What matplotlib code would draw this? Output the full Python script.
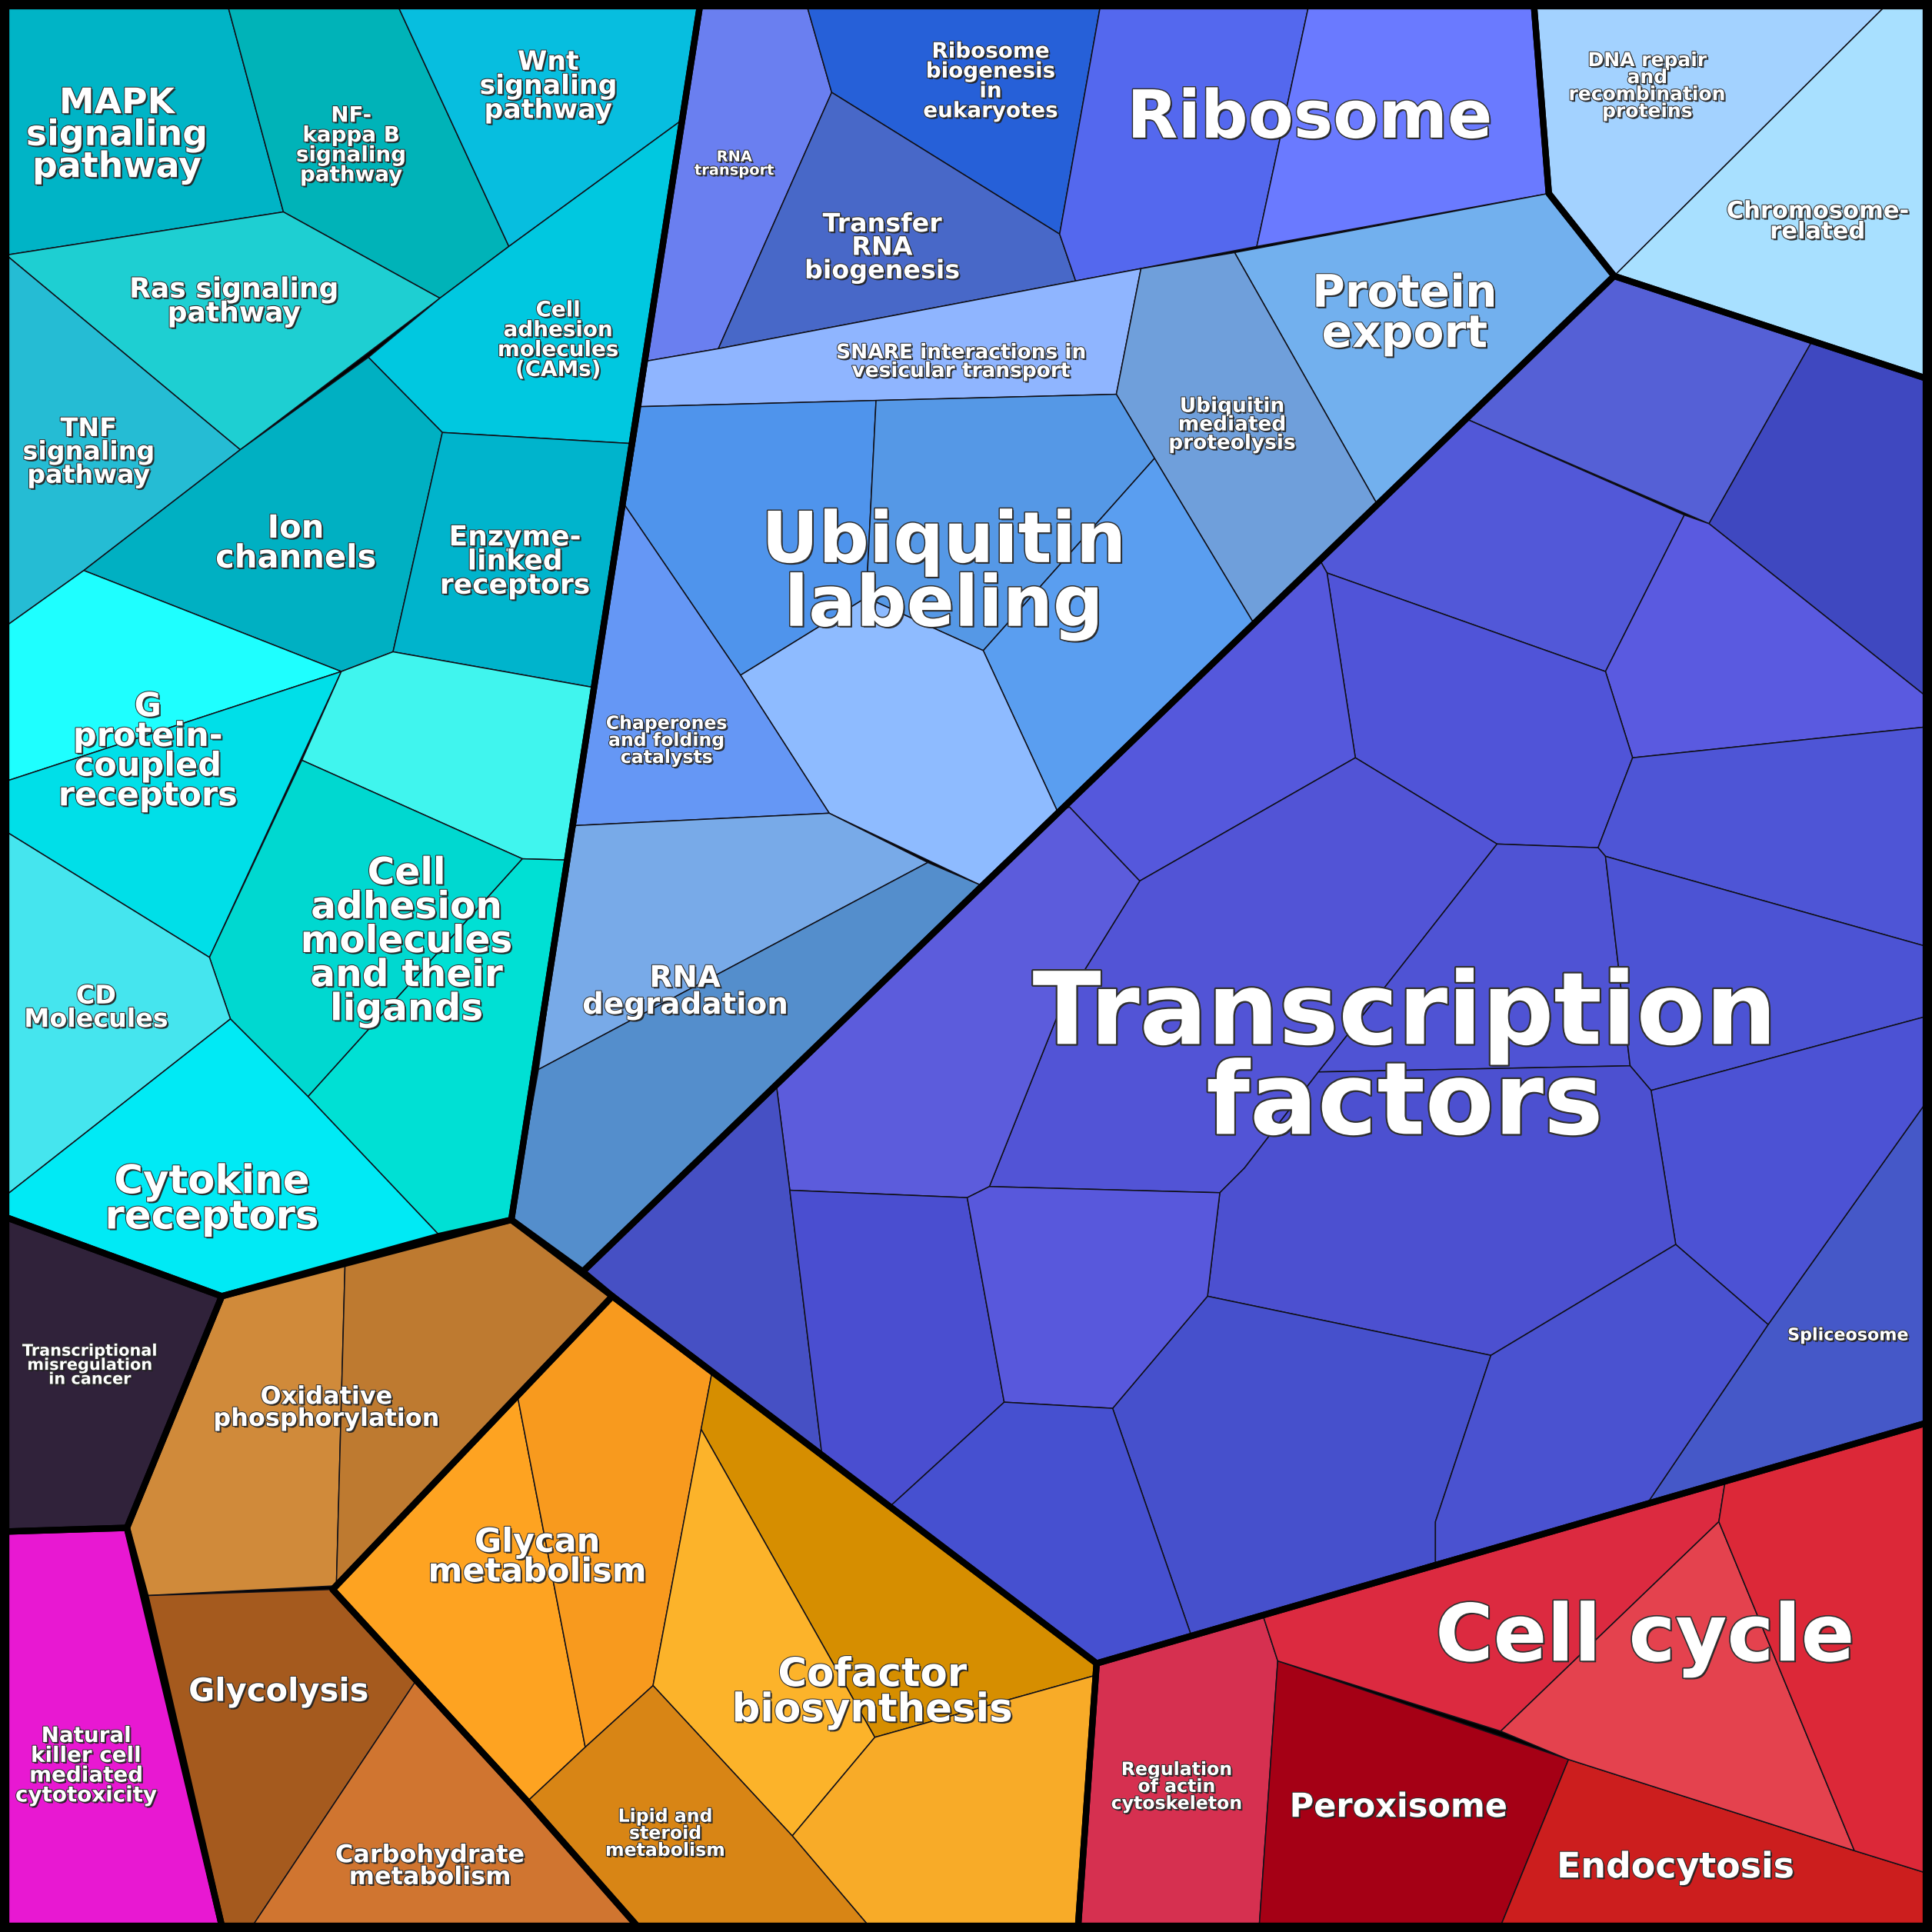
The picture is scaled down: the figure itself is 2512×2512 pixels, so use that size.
import matplotlib
matplotlib.use("Agg")
import matplotlib.pyplot as plt
from matplotlib.patches import Polygon
import matplotlib.patheffects as pe

# ---- cells of the Voronoi treemap (vertices, px of a 1568 frame) ----
cell_colors = [
    "#00b4c6", "#00b3b8", "#07bedf", "#1ecfd2", "#25bcd4", "#00c8e0", "#00b0c2", "#00b4cc",
    "#1effff", "#00dfe8", "#40f5ee", "#00d8d0", "#00e0d4", "#45e5ee", "#00eaf5",
    "#6a7ff0", "#2660d8", "#4868c8", "#5468ee", "#6a7aff", "#8fb5ff", "#72b0ee", "#6f9fdb",
    "#4f94ec", "#5598e6", "#5a9ef0", "#8ebbff", "#6597f5", "#78aae8", "#548ecc",
    "#a3d2ff", "#a8e0ff",
    "#5560d6", "#3f48c0", "#4558c8", "#5258d8", "#5a5ae0", "#5054d8", "#4e55d6", "#5558dc",
    "#5254d6", "#4f53d4", "#4c53d4", "#4c52d4", "#4c50d0", "#4650cc", "#4a52d0", "#5c5cdc",
    "#4650c4", "#4a4ed0", "#5858dc", "#4650d0",
    "#d63050", "#a50015", "#cc1e1e", "#dc2a40", "#e4424e", "#dc2838",
    "#d08a3a", "#be7a30", "#a55a1e", "#d07530",
    "#fea321", "#f89a1e", "#d68e00", "#fcb32a", "#f8ab28", "#d88515",
    "#30223a", "#e818d2",
]
cell_vertices = [
    [(5,5),(185,5),(230,172),(5,207)],
    [(185,5),(323,5),(413,200),(357,242),(230,172)],
    [(323,5),(568,5),(554,97),(413,200)],
    [(5,207),(230,172),(357,242),(195,365)],
    [(5,207),(195,365),(68,463),(5,508)],
    [(554,97),(513,360),(359,351),(299,290),(357,242),(413,200)],
    [(195,365),(299,290),(359,351),(319,529),(277,545),(68,463)],
    [(359,351),(513,360),(482,558),(319,529)],
    [(5,508),(68,463),(277,545),(5,634)],
    [(5,634),(277,545),(170,777),(5,675)],
    [(277,545),(319,529),(482,558),(460,698),(424,697),(245,617)],
    [(245,617),(424,697),(250,890),(187,827),(170,777)],
    [(424,697),(460,698),(415,990),(357,1003),(250,890)],
    [(5,675),(170,777),(187,827),(5,970)],
    [(5,970),(187,827),(250,890),(357,1003),(180,1052),(5,988)],
    [(568,5),(655,5),(675,75),(583,283),(525,293)],
    [(655,5),(893,5),(860,190),(675,75)],
    [(675,75),(860,190),(873,228),(583,283)],
    [(893,5),(1062,5),(1020,200),(873,228),(860,190)],
    [(1062,5),(1245,5),(1257,157),(1020,200)],
    [(525,293),(583,283),(873,228),(926,218),(906,320),(520,330)],
    [(1002,205),(1257,157),(1310,224),(1117,408)],
    [(926,218),(1002,205),(1117,408),(1017,505),(937,372),(906,320)],
    [(520,330),(711,325),(703,485),(601,548),(507,410)],
    [(711,325),(906,320),(937,372),(798,528),(703,485)],
    [(937,372),(1017,505),(858,658),(798,528)],
    [(601,548),(703,485),(798,528),(858,658),(795,718),(673,660)],
    [(507,410),(601,548),(673,660),(467,670),(482,558)],
    [(467,670),(673,660),(753,700),(437,868),(460,698)],
    [(437,868),(753,700),(795,718),(473,1032),(415,990)],
    [(1245,5),(1530,5),(1310,224),(1257,157)],
    [(1530,5),(1563,5),(1563,307),(1310,224)],
    [(1310,224),(1470,278),(1387,425),(1190,340)],
    [(1470,278),(1563,307),(1563,565),(1387,425)],
    [(1563,895),(1563,1155),(1337,1220),(1435,1075)],
    [(1072,456),(1190,340),(1367,418),(1303,545),(1077,465)],
    [(1367,418),(1387,425),(1563,565),(1563,590),(1325,615),(1303,545)],
    [(1077,465),(1303,545),(1325,615),(1297,688),(1215,685),(1100,615)],
    [(1325,615),(1563,590),(1563,768),(1303,695),(1297,688)],
    [(858,658),(1072,456),(1077,465),(1100,615),(925,715),(868,655)],
    [(925,715),(1100,615),(1215,685),(1070,870),(1010,948),(990,968),(803,963),(860,820)],
    [(1215,685),(1297,688),(1303,695),(1323,865),(1070,870)],
    [(1303,695),(1563,768),(1563,825),(1340,885),(1323,865)],
    [(1340,885),(1563,825),(1563,895),(1435,1075),(1360,1010)],
    [(990,968),(1010,948),(1070,870),(1323,865),(1340,885),(1360,1010),(1210,1100),(980,1052)],
    [(903,1143),(980,1052),(1210,1100),(1165,1235),(1165,1268),(967,1328)],
    [(1210,1100),(1360,1010),(1435,1075),(1337,1220),(1165,1268),(1165,1235)],
    [(858,658),(868,655),(925,715),(860,820),(803,963),(785,972),(641,966),(630,880)],
    [(473,1032),(630,880),(641,966),(667,1180),(497,1052)],
    [(641,966),(785,972),(815,1138),(723,1222),(667,1180)],
    [(785,972),(803,963),(990,968),(980,1052),(903,1143),(815,1138)],
    [(723,1222),(815,1138),(903,1143),(967,1328),(890,1350)],
    [(890,1350),(1025,1311),(1037,1348),(1022,1563),(875,1563)],
    [(1037,1348),(1273,1428),(1218,1563),(1022,1563)],
    [(1273,1428),(1505,1502),(1563,1520),(1563,1563),(1218,1563)],
    [(1025,1311),(1400,1203),(1395,1235),(1218,1405),(1037,1348)],
    [(1395,1235),(1505,1502),(1273,1428),(1218,1405)],
    [(1400,1203),(1563,1155),(1563,1520),(1505,1502),(1395,1235)],
    [(180,1052),(280,1027),(273,1287),(118,1295),(103,1240)],
    [(280,1027),(415,990),(497,1052),(270,1290),(273,1287)],
    [(118,1295),(270,1290),(337,1365),(205,1563),(180,1563)],
    [(337,1365),(428,1462),(517,1563),(205,1563)],
    [(270,1290),(420,1133),(475,1418),(428,1462)],
    [(420,1133),(497,1052),(578,1113),(530,1368),(475,1418)],
    [(578,1113),(890,1350),(888,1360),(710,1410),(569,1160)],
    [(569,1160),(710,1410),(643,1490),(530,1368)],
    [(710,1410),(888,1360),(875,1563),(705,1563),(643,1490)],
    [(530,1368),(643,1490),(705,1563),(517,1563),(428,1462),(475,1418)],
    [(5,988),(180,1052),(103,1240),(5,1243)],
    [(5,1243),(103,1240),(180,1563),(5,1563)],
]

group_outlines = [
    [(5,5),(568,5),(415,990),(357,1003),(180,1052),(5,988)],
    [(568,5),(1245,5),(1257,157),(1310,224),(473,1032),(415,990)],
    [(1245,5),(1563,5),(1563,307),(1310,224),(1257,157)],
    [(473,1032),(1310,224),(1563,307),(1563,1155),(890,1350),(497,1052)],
    [(890,1350),(1563,1155),(1563,1563),(875,1563)],
    [(180,1052),(415,990),(497,1052),(270,1290),(428,1462),(517,1563),(180,1563),(118,1295),(103,1240)],
    [(270,1290),(497,1052),(890,1350),(875,1563),(517,1563),(428,1462)],
    [(5,988),(180,1052),(103,1240),(5,1243)],
    [(5,1243),(103,1240),(180,1563),(5,1563)],
]

labels = [
    "MAPK\nsignaling\npathway", "NF-\nkappa B\nsignaling\npathway", "Wnt\nsignaling\npathway",
    "Ras signaling\npathway", "TNF\nsignaling\npathway", "Cell\nadhesion\nmolecules\n(CAMs)",
    "Ion\nchannels", "Enzyme-\nlinked\nreceptors", "G\nprotein-\ncoupled\nreceptors",
    "Cell\nadhesion\nmolecules\nand their\nligands", "CD\nMolecules", "Cytokine\nreceptors",
    "RNA\ntransport", "Ribosome\nbiogenesis\nin\neukaryotes", "Transfer\nRNA\nbiogenesis",
    "Ribosome", "DNA repair\nand\nrecombination\nproteins", "Chromosome-\nrelated",
    "SNARE interactions in\nvesicular transport", "Protein\nexport", "Ubiquitin\nmediated\nproteolysis",
    "Ubiquitin\nlabeling", "Chaperones\nand folding\ncatalysts", "RNA\ndegradation",
    "Transcription\nfactors", "Spliceosome", "Transcriptional\nmisregulation\nin cancer",
    "Natural\nkiller cell\nmediated\ncytotoxicity", "Oxidative\nphosphorylation", "Glycolysis",
    "Carbohydrate\nmetabolism", "Glycan\nmetabolism", "Lipid and\nsteroid\nmetabolism",
    "Cofactor\nbiosynthesis", "Regulation\nof actin\ncytoskeleton", "Peroxisome",
    "Endocytosis", "Cell cycle",
]
label_x = [95, 285, 445, 190, 72, 453, 240, 418, 120, 330, 78, 172, 596, 804, 716, 1063, 1337,
           1475, 780, 1140, 1000, 766, 541, 556, 1140, 1500, 73, 70, 265, 226, 349, 436, 540,
           708, 955, 1135, 1360, 1335]
label_y = [110, 118, 70, 245, 367, 276, 441, 456, 610, 764, 818, 974, 133, 66, 201, 97, 70,
           180, 294, 255, 345, 466, 601, 805, 861, 1084, 1108, 1433, 1143, 1373, 1515, 1264,
           1488, 1374, 1450, 1467, 1516, 1330]
label_size = [33, 20, 25, 26, 24, 20, 30, 26, 31, 35, 24, 37, 14, 20, 24, 62, 18, 22, 19, 42,
              19, 66, 17, 28, 94, 16, 15, 20, 23, 30, 23, 31, 17, 37, 17, 31, 33, 74]

fig = plt.figure(figsize=(25.12, 25.12), dpi=100, facecolor="black")
ax = fig.add_axes([0, 0, 1, 1])
ax.set_xlim(0, 1568)
ax.set_ylim(1568, 0)
ax.axis("off")

for verts, col in zip(cell_vertices, cell_colors):
    ax.add_patch(Polygon(verts, closed=True, facecolor=col, edgecolor="#101018",
                         linewidth=1.1, joinstyle="round"))
for verts in group_outlines:
    ax.add_patch(Polygon(verts, closed=True, fill=False, edgecolor="black",
                         linewidth=6, joinstyle="round"))
ax.add_patch(Polygon([(3, 3), (1565, 3), (1565, 1565), (3, 1565)], closed=True, fill=False,
                     edgecolor="black", linewidth=10))

for t, x, y, s in zip(labels, label_x, label_y, label_size):
    ax.text(x, y, t, ha="center", va="center", fontsize=s, fontweight="bold", color="white",
            family="DejaVu Sans", linespacing=0.9,
            path_effects=[pe.withSimplePatchShadow(offset=(1.5, -1.5), shadow_rgbFace="#202020", alpha=0.9),
                          pe.withStroke(linewidth=max(1.5, s / 30), foreground="#303030")])

fig.savefig("out.png", dpi=100, facecolor="black")
